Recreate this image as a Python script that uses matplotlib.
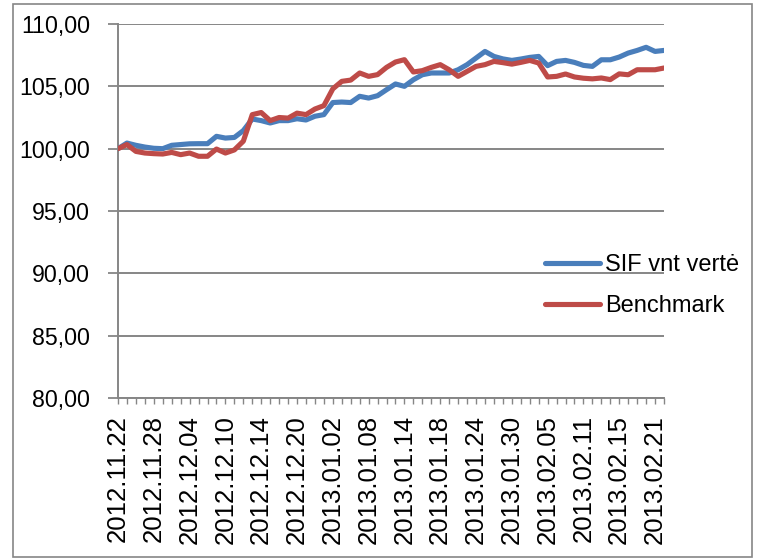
import numpy as np
import pandas as pd
import matplotlib
matplotlib.use('Agg')
import matplotlib.pyplot as plt
from matplotlib.patches import Rectangle

# trading days, 2012.11.22 - 2013.02.22
holidays = ['2012-12-24', '2012-12-25', '2012-12-26', '2012-12-31', '2013-01-01']
dates = pd.bdate_range('2012-11-22', '2013-02-22', freq='C', holidays=holidays)
date_labels = [d.strftime('%Y.%m.%d') for d in dates]

sif = [100.00, 100.45, 100.27, 100.13, 100.03, 100.00, 100.27, 100.33, 100.39, 100.40,
       100.40, 100.99, 100.85, 100.90, 101.45, 102.38, 102.25, 102.06, 102.25, 102.25,
       102.40, 102.30, 102.60, 102.73, 103.70, 103.74, 103.70, 104.20, 104.06, 104.25,
       104.73, 105.19, 105.00, 105.53, 105.93, 106.07, 106.07, 106.07, 106.33, 106.74,
       107.27, 107.80, 107.40, 107.20, 107.08, 107.19, 107.32, 107.40, 106.66, 107.00,
       107.08, 106.92, 106.68, 106.60, 107.13, 107.13, 107.35, 107.67, 107.88, 108.13,
       107.80, 107.88]
bench = [100.00, 100.33, 99.78, 99.65, 99.60, 99.57, 99.70, 99.52, 99.65, 99.39,
         99.39, 99.97, 99.65, 99.90, 100.60, 102.73, 102.90, 102.25, 102.50, 102.45,
         102.85, 102.73, 103.18, 103.45, 104.80, 105.40, 105.50, 106.07, 105.80, 105.94,
         106.52, 106.95, 107.14, 106.15, 106.26, 106.52, 106.74, 106.33, 105.80, 106.20,
         106.60, 106.74, 107.00, 106.90, 106.78, 106.92, 107.08, 106.87, 105.75, 105.80,
         105.99, 105.75, 105.65, 105.60, 105.67, 105.54, 106.00, 105.93, 106.33, 106.33,
         106.33, 106.47]
series_names = ['SIF vnt vertė', 'Benchmark']
yticks = [80, 85, 90, 95, 100, 105, 110]

W, H = 759, 558
grey = '#868686'
blue = '#4A7EBB'
red = '#BE4B48'

plt.rcParams['font.family'] = ['Liberation Sans', 'DejaVu Sans']

fig = plt.figure(figsize=(W / 100, H / 100), dpi=100)
fig.patches.append(Rectangle((13 / W, 1 / H), 739 / W, 553 / H, transform=fig.transFigure,
                             fill=False, edgecolor=grey, lw=1.2))

ax = fig.add_axes([118 / W, 1 - 398 / H, (664 - 118) / W, (398 - 24) / H])
x = np.arange(len(dates))
ax.plot(x, sif, color=blue, lw=3.7, solid_joinstyle='round', solid_capstyle='round',
        label=series_names[0], zorder=3)
ax.plot(x, bench, color=red, lw=3.7, solid_joinstyle='round', solid_capstyle='round',
        label=series_names[1], zorder=3)

ax.set_xlim(0, len(dates) - 1)
ax.set_ylim(80, 110)
ax.set_yticks(yticks)
ax.set_yticklabels([f'{v:.2f}'.replace('.', ',') for v in yticks], fontsize=16.7)
ax.set_xticks(x[::4])
ax.set_xticklabels(date_labels[::4], rotation=90, fontsize=18.5)
ax.set_xticks(x, minor=True)

ax.yaxis.grid(True, color=grey, lw=1.4)
ax.set_axisbelow(True)
for s in ['top', 'right']:
    ax.spines[s].set_visible(False)
for s in ['left', 'bottom']:
    ax.spines[s].set_color(grey)
    ax.spines[s].set_linewidth(1.4)
ax.tick_params(axis='y', length=7, width=1.3, color=grey, pad=13)
ax.tick_params(axis='x', which='both', length=4.5, width=1.0, color=grey, pad=8)

leg = ax.legend(loc='center left', bbox_to_anchor=(545 / W, 1 - 285.5 / H),
                bbox_transform=fig.transFigure, frameon=False, fontsize=17,
                handlelength=2.33, handletextpad=0.2, labelspacing=0.8,
                borderpad=0, borderaxespad=0)
for h in leg.get_lines():
    h.set_linewidth(3.7)

fig.savefig('out.png', dpi=100)
